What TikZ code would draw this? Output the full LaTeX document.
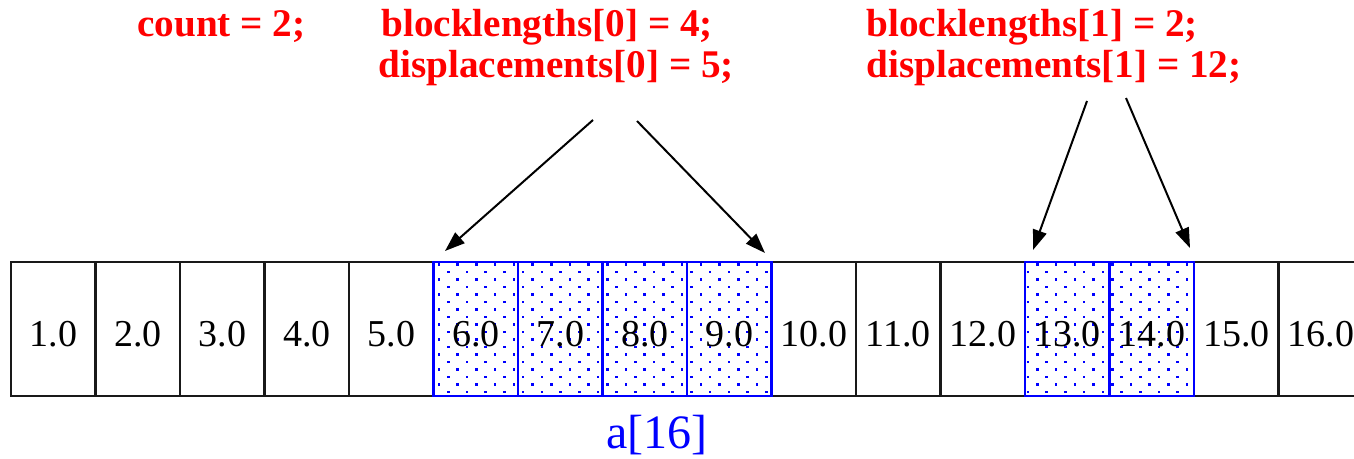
\documentclass[tikz,border=0pt]{standalone}
\usepackage{fontspec}
\setmainfont{Liberation Serif}
\usetikzlibrary{arrows.meta}
\begin{document}
\begin{tikzpicture}[x=0.5pt,y=-0.5pt,
  cell/.style={draw=black!90,line width=1.1pt,minimum width=42.25pt,minimum height=67pt,inner sep=0pt},
  hcell/.style={draw=blue,line width=1.1pt,minimum width=42.25pt,minimum height=67pt,inner sep=0pt},
  num/.style={font=\fontsize{19pt}{20pt}\selectfont,anchor=base,inner sep=0pt},
  code/.style={font=\fontsize{19.6pt}{21pt}\selectfont\bfseries,text=red,anchor=base west,inner sep=0pt},
  ptr/.style={-{Triangle[length=10pt,width=7pt]},line width=1pt,black}]
\clip (0,0) rectangle (1354,459);
\fill[white] (0,0) rectangle (1354,459);
% cells
\foreach \i in {1,...,16} {
  \node[cell] (c\i) at ({53.25+84.5*(\i-1)},329) {};
}
% dotted fill of the chosen blocks
\begin{scope}
  \clip (433,262) rectangle (771,396) (1025,262) rectangle (1194,396);
  \foreach \j in {0,...,17} {
    \pgfmathsetmacro\yy{264.7+7.5*\j}
    \pgfmathsetmacro\xo{439+9.35*mod(\j,2)}
    \foreach \m in {0,...,17} {
      \fill[blue] ({\xo+18.7*\m-1.3},{\yy-1.3}) rectangle +(2.6,2.6);
    }
    \pgfmathsetmacro\xp{1037.4-9.35*mod(\j,2)}
    \foreach \m in {0,...,9} {
      \fill[blue] ({\xp+18.7*\m-1.3},{\yy-1.3}) rectangle +(2.6,2.6);
    }
  }
\end{scope}
\foreach \i in {6,7,8,9,13,14} {
  \node[hcell] (h\i) at (c\i) {};
}
% numbers
\foreach \i in {1,...,16} {
  \node[num] at ({53.25+84.5*(\i-1)},347) {\i.0};
}
% code labels
\node[code] (cnt) at (137,37) {count = 2;};
\node[code] (bl0) at (381,37) {blocklengths[0] = 4;};
\node[code] (dp0) at (378,78) {displacements[0] = 5;};
\node[code] (bl1) at (866,37) {blocklengths[1] = 2;};
\node[code] (dp1) at (866,78) {displacements[1] = 12;};
% array name
\node[font=\fontsize{24pt}{26pt}\selectfont,text=blue,anchor=base,inner sep=0pt] (arr) at (657,448) {a[16]};
% arrows
\coordinate (s1) at (593,120);
\coordinate (s2) at (637,121);
\coordinate (s3) at (1087,101);
\coordinate (s4) at (1126,98);
\coordinate (t1) at (445,251);
\coordinate (t2) at (765,253);
\coordinate (t3) at (1033,250);
\coordinate (t4) at (1190,248);
\draw[ptr] (s1) -- (t1);
\draw[ptr] (s2) -- (t2);
\draw[ptr] (s3) -- (t3);
\draw[ptr] (s4) -- (t4);
\end{tikzpicture}
\end{document}
